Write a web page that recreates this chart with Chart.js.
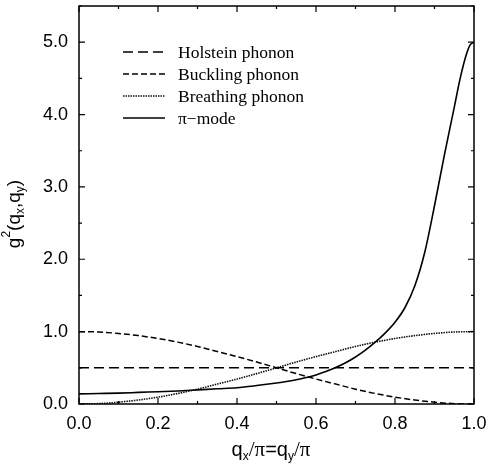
<!DOCTYPE html>
<html>
<head>
<meta charset="utf-8">
<script src="https://cdn.jsdelivr.net/npm/chart.js@4.4.1/dist/chart.umd.min.js"></script>
<style>
  html, body { margin: 0; padding: 0; background: #fff; }
  #wrap { width: 489px; height: 464px; position: relative; }
</style>
</head>
<body>
<div id="wrap"><canvas id="c" width="489" height="464"></canvas></div>
<script>
// q/pi sample positions for the symmetric phonon curves
const qGrid = [0, 0.05, 0.1, 0.15, 0.2, 0.25, 0.3, 0.35, 0.4, 0.45, 0.5,
               0.55, 0.6, 0.65, 0.7, 0.75, 0.8, 0.85, 0.9, 0.95, 1.0];
const buckling = [1.0, 0.995, 0.975, 0.945, 0.905, 0.855, 0.795, 0.725, 0.655, 0.58, 0.5,
                  0.42, 0.345, 0.275, 0.205, 0.145, 0.095, 0.055, 0.025, 0.005, 0.0];
const breathing = [0.0, 0.005, 0.025, 0.055, 0.095, 0.145, 0.205, 0.275, 0.345, 0.42, 0.5,
                   0.58, 0.655, 0.725, 0.795, 0.855, 0.905, 0.945, 0.975, 0.995, 1.0];
// Holstein coupling is flat
const qHolstein = [0, 1.0];
const holstein = [0.5, 0.5];
// pi-mode rises steeply near the zone corner
const qPi = [0, 0.05, 0.1, 0.15, 0.2, 0.25, 0.3, 0.35, 0.4, 0.45, 0.5, 0.525, 0.55, 0.575, 0.6, 0.625,
             0.65, 0.675, 0.7, 0.725, 0.75, 0.775, 0.8, 0.825, 0.85, 0.875, 0.9, 0.925,
             0.95, 0.965, 0.98, 0.99, 1.0];
const piMode = [0.14, 0.145, 0.15, 0.16, 0.17, 0.18, 0.195, 0.21, 0.225, 0.255, 0.29, 0.31, 0.335, 0.365, 0.40, 0.45,
                0.505, 0.57, 0.65, 0.745, 0.855, 0.98, 1.13, 1.33, 1.63, 2.09, 2.74, 3.44,
                4.1, 4.5, 4.82, 4.96, 5.0];
const xTicks = [0, 0.2, 0.4, 0.6, 0.8, 1.0];
const yTicks = [0, 1, 2, 3, 4, 5];
const seriesNames = ['Holstein phonon', 'Buckling phonon', 'Breathing phonon', '\u03c0\u2212mode'];

const pts = (xs, ys) => xs.map((x, i) => ({ x: x, y: ys[i] }));

const SANS = '"Liberation Sans", Arial, sans-serif';
const SERIF = '"Liberation Serif", "Times New Roman", serif';

// draws a run of text pieces (with sub/superscripts) starting at x0
function drawRuns(ctx, parts, x0, y0) {
  let x = x0;
  parts.forEach(p => {
    ctx.font = p[1];
    ctx.fillText(p[0], x, y0 + p[2]);
    x += ctx.measureText(p[0]).width;
  });
}
function runsWidth(ctx, parts) {
  let w = 0;
  parts.forEach(p => { ctx.font = p[1]; w += ctx.measureText(p[0]).width; });
  return w;
}

// frame, inward ticks, legend and axis titles
const decor = {
  id: 'decor',
  afterDraw(chart) {
    const ctx = chart.ctx;
    const a = chart.chartArea;
    const xs = chart.scales.x, ys = chart.scales.y;
    ctx.save();
    ctx.strokeStyle = '#000';
    ctx.lineWidth = 1.5;
    ctx.setLineDash([]);
    ctx.strokeRect(a.left, a.top, a.right - a.left, a.bottom - a.top);
    ctx.lineWidth = 1.2;
    for (let i = 0; i <= 10; i++) {
      const px = xs.getPixelForValue(i / 10);
      const len = (i % 2 === 0) ? 6 : 3;
      ctx.beginPath();
      ctx.moveTo(px, a.bottom); ctx.lineTo(px, a.bottom - len);
      ctx.moveTo(px, a.top); ctx.lineTo(px, a.top + len);
      ctx.stroke();
    }
    for (let i = 0; i <= 11; i++) {
      const py = ys.getPixelForValue(i / 2);
      const len = (i % 2 === 0) ? 6 : 3;
      ctx.beginPath();
      ctx.moveTo(a.left, py); ctx.lineTo(a.left + len, py);
      ctx.moveTo(a.right, py); ctx.lineTo(a.right - len, py);
      ctx.stroke();
    }

    // legend
    const ds = chart.data.datasets;
    const lx0 = 123, lx1 = 165, tx = 178;
    ctx.textBaseline = 'middle';
    ctx.textAlign = 'left';
    ds.forEach((d, i) => {
      const y = 52 + i * 22;
      ctx.strokeStyle = d.borderColor;
      ctx.lineWidth = d.borderWidth;
      ctx.setLineDash(d.borderDash || []);
      ctx.beginPath();
      ctx.moveTo(lx0, y); ctx.lineTo(lx1, y);
      ctx.stroke();
      ctx.fillStyle = '#000';
      ctx.font = '17.5px ' + SERIF;
      ctx.fillText(d.label, tx, y + 1);
    });
    ctx.setLineDash([]);

    // x axis title: q_x/pi=q_y/pi
    ctx.fillStyle = '#000';
    ctx.textBaseline = 'alphabetic';
    const parts = [
      ['q', '20px ' + SANS, 0], ['x', '12px ' + SANS, 4],
      ['/\u03c0', '21px ' + SERIF, 0], ['=', '20px ' + SANS, 0],
      ['q', '20px ' + SANS, 0], ['y', '12px ' + SANS, 4],
      ['/\u03c0', '21px ' + SERIF, 0]
    ];
    drawRuns(ctx, parts, 271 - runsWidth(ctx, parts) / 2, 456);

    // y axis title: g^2(q_x,q_y)
    const yparts = [
      ['g', '19px ' + SANS, 0], ['2', '12px ' + SANS, -10],
      ['(q', '19px ' + SANS, 0], ['x', '12px ' + SANS, 4],
      [',q', '19px ' + SANS, 0], ['y', '12px ' + SANS, 4],
      [')', '19px ' + SANS, 0]
    ];
    const yw = runsWidth(ctx, yparts);
    ctx.translate(20, 214);
    ctx.rotate(-Math.PI / 2);
    drawRuns(ctx, yparts, -yw / 2, 0);
    ctx.restore();
  }
};

new Chart(document.getElementById('c'), {
  type: 'line',
  data: {
    datasets: [
      { label: seriesNames[0], data: pts(qHolstein, holstein), borderColor: '#000',
        borderWidth: 1.5, borderDash: [10, 5] },
      { label: seriesNames[1], data: pts(qGrid, buckling), borderColor: '#000',
        borderWidth: 1.5, borderDash: [6, 3] },
      { label: seriesNames[2], data: pts(qGrid, breathing), borderColor: '#111',
        borderWidth: 1.6, borderDash: [1.5, 1] },
      { label: seriesNames[3], data: pts(qPi, piMode), borderColor: '#000',
        borderWidth: 1.6 }
    ]
  },
  options: {
    responsive: false,
    animation: false,
    events: [],
    layout: { padding: { top: 6, right: 15, left: 0, bottom: 0 } },
    elements: {
      point: { radius: 0 },
      line: { cubicInterpolationMode: 'monotone', fill: false }
    },
    plugins: { legend: { display: false }, tooltip: { enabled: false } },
    scales: {
      x: {
        type: 'linear', min: 0, max: 1,
        afterFit(s) { s.height = 60; s.paddingLeft = 0; s.paddingRight = 0; },
        afterBuildTicks(s) { s.ticks = xTicks.map(v => ({ value: v })); },
        grid: { display: false, drawTicks: false },
        border: { display: false },
        ticks: { color: '#000', font: { family: SANS, size: 18 }, padding: 9,
                 maxRotation: 0, callback: v => v.toFixed(1) }
      },
      y: {
        type: 'linear', min: 0, max: 5.5,
        afterFit(s) { s.width = 79; s.paddingTop = 0; s.paddingBottom = 0; },
        afterBuildTicks(s) { s.ticks = yTicks.map(v => ({ value: v })); },
        grid: { display: false, drawTicks: false },
        border: { display: false },
        ticks: { color: '#000', font: { family: SANS, size: 18 }, padding: 11,
                 callback: v => v.toFixed(1) }
      }
    }
  },
  plugins: [decor]
});
</script>
</body>
</html>
